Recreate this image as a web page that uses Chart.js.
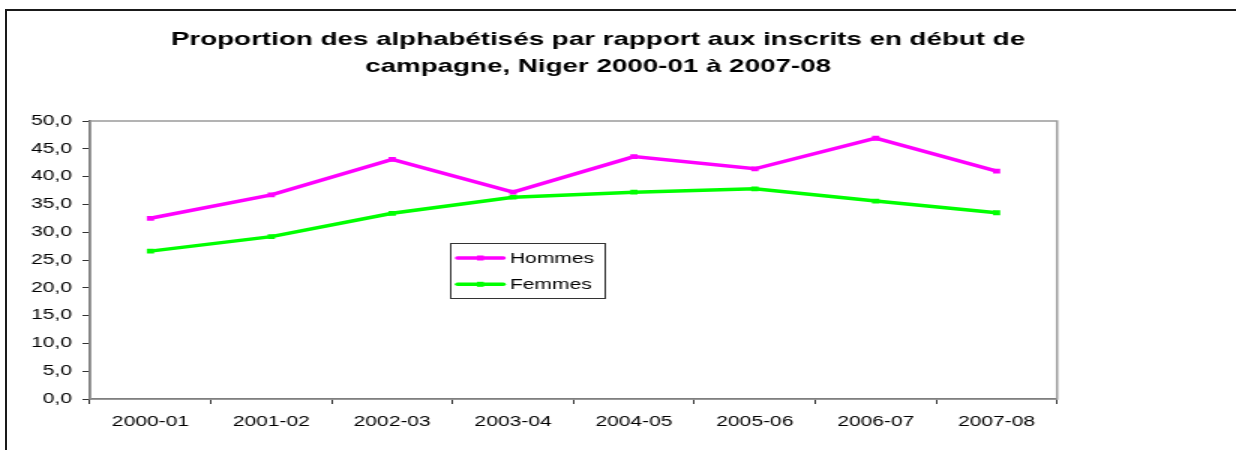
<!DOCTYPE html>
<html>
<head>
<meta charset="utf-8">
<script src="https://cdn.jsdelivr.net/npm/chart.js@4/dist/chart.umd.min.js"></script>
<style>
  html, body { margin: 0; padding: 0; background: #fff; overflow: hidden; }
  body { width: 1236px; height: 450px; position: relative; }
  #frame {
    position: absolute; left: 5px; top: 9px; width: 1300px; height: 500px;
    border: 2px solid #1a1a1a; box-sizing: border-box;
  }
  /* the original picture is stretched horizontally, so the chart is drawn narrow and widened */
  #wrap {
    position: absolute; left: 0; top: 0; width: 824px; height: 450px;
    transform: scaleX(1.5); transform-origin: 0 0;
  }
</style>
</head>
<body>
<div id="frame"></div>
<div id="wrap"><canvas id="chart"></canvas></div>
<script>
const categories = ["2000-01", "2001-02", "2002-03", "2003-04", "2004-05", "2005-06", "2006-07", "2007-08"];
const hommes = [32.5, 36.7, 43.1, 37.2, 43.6, 41.4, 46.9, 41.0];
const femmes = [26.6, 29.2, 33.4, 36.3, 37.2, 37.8, 35.6, 33.5];
const seriesNames = ["Hommes", "Femmes"];
const titleLines = [
  "Proportion des alphabétisés par rapport aux inscrits en début de",
  "campagne, Niger 2000-01 à 2007-08",
];
const yMin = 0;
const yMax = 50;
const yStep = 5;

const FONT = "'Liberation Sans', Arial, sans-serif";

// gray frame round the plot area (top and right sides show)
const plotFrame = {
  id: "plotFrame",
  beforeDatasetsDraw(chart) {
    const { ctx, chartArea: a } = chart;
    ctx.save();
    ctx.strokeStyle = "#9a9a9a";
    ctx.lineWidth = 1.5;
    ctx.strokeRect(a.left, a.top, a.right - a.left, a.bottom - a.top);
    ctx.restore();
  },
};

// boxed legend sitting inside the plot
const boxLegend = {
  id: "boxLegend",
  afterDraw(chart) {
    const { ctx, chartArea: a } = chart;
    const left = a.left + 240.5;
    const top = 243.5;
    const w = 103;
    const h = 55;
    ctx.save();
    ctx.fillStyle = "#fff";
    ctx.fillRect(left, top, w, h);
    ctx.strokeStyle = "#333";
    ctx.lineWidth = 1;
    ctx.strokeRect(left, top, w, h);
    ctx.font = "14px " + FONT;
    ctx.textBaseline = "middle";
    chart.data.datasets.forEach((ds, i) => {
      const y = top + 14.5 + i * 26.3;
      ctx.strokeStyle = ds.borderColor;
      ctx.lineWidth = 3.5;
      ctx.lineCap = "round";
      ctx.beginPath();
      ctx.moveTo(left + 4.5, y);
      ctx.lineTo(left + 35, y);
      ctx.stroke();
      ctx.fillStyle = ds.borderColor;
      ctx.fillRect(left + 17.5, y - 2.5, 4.5, 5);
      ctx.fillStyle = "#000";
      ctx.fillText(ds.label, left + 39.5, y + 1);
    });
    ctx.restore();
  },
};

new Chart(document.getElementById("chart"), {
  type: "line",
  data: {
    labels: categories,
    datasets: [
      {
        label: seriesNames[0],
        data: hommes,
        borderColor: "#ff00ff",
        backgroundColor: "#ff00ff",
        borderWidth: 3.5,
        pointStyle: "rect",
        pointRadius: 3.4,
        pointBorderWidth: 0,
        tension: 0,
      },
      {
        label: seriesNames[1],
        data: femmes,
        borderColor: "#00ff00",
        backgroundColor: "#00ff00",
        borderWidth: 3.5,
        pointStyle: "rect",
        pointRadius: 3.4,
        pointBorderWidth: 0,
        tension: 0,
      },
    ],
  },
  options: {
    responsive: true,
    maintainAspectRatio: false,
    animation: false,
    layout: { padding: { left: 0, right: 26.6, top: 0, bottom: 0 } },
    plugins: {
      legend: { display: false },
      tooltip: { enabled: false },
      title: {
        display: true,
        text: titleLines,
        color: "#000",
        font: { family: FONT, size: 18.5, weight: "bold", lineHeight: "27px" },
        padding: { top: 26, bottom: 41 },
      },
    },
    scales: {
      x: {
        type: "category",
        offset: true,
        grid: {
          offset: true,
          drawOnChartArea: false,
          tickLength: 5,
          color: "#333",
          lineWidth: 1,
        },
        border: { color: "#333", width: 1.5 },
        ticks: {
          color: "#000",
          padding: 10,
          maxRotation: 0,
          font: { family: FONT, size: 14 },
        },
        afterFit(scale) { scale.height = 51; },
      },
      y: {
        min: yMin,
        max: yMax,
        grid: {
          drawOnChartArea: false,
          tickLength: 5,
          color: "#333",
          lineWidth: 1,
        },
        border: { color: "#333", width: 1.5 },
        ticks: {
          stepSize: yStep,
          color: "#000",
          padding: 7,
          font: { family: FONT, size: 14 },
          callback: (v) => v.toFixed(1).replace(".", ","),
        },
        afterFit(scale) { scale.width = 60; },
      },
      // empty spacer on the right, keeps the plot clear of the right margin
      y2: {
        position: "right",
        display: true,
        grid: { display: false },
        border: { display: false },
        ticks: { display: false },
        afterFit(scale) { scale.width = 92.7; },
      },
    },
  },
  plugins: [plotFrame, boxLegend],
});
</script>
</body>
</html>
